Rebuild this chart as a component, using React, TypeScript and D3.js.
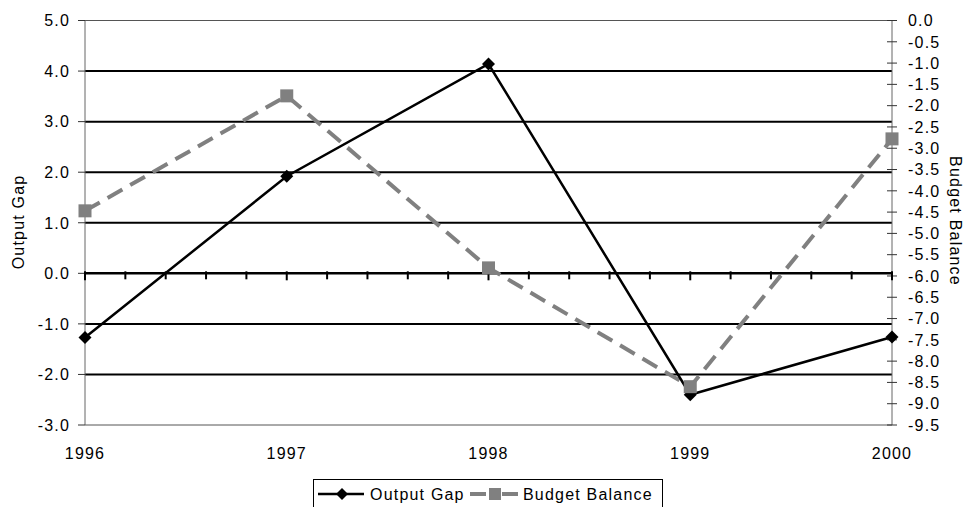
import * as d3 from "d3";
import { useEffect } from "react";

// данные
const years = [1996, 1997, 1998, 1999, 2000];
const outputGap = [-1.27, 1.92, 4.14, -2.4, -1.26];
const budgetBalance = [-4.47, -1.77, -5.81, -8.6, -2.78];
const leftTicks = [5, 4, 3, 2, 1, 0, -1, -2, -3];
const rightTicks = d3.range(0, 20).map((i) => -i * 0.5);
const legendLabels = ["Output Gap", "Budget Balance"];

const W = 963;
const H = 507;
const margin = { top: 20.5, bottom: 82, left: 85, right: 71 };
const font = "'Liberation Sans', Arial, sans-serif";

const App = () => {
  useEffect(() => {
    document.body.style.margin = "0";
  }, []);

  const x = d3.scaleLinear().domain([1996, 2000]).range([margin.left, W - margin.right]);
  const yL = d3.scaleLinear().domain([-3, 5]).range([H - margin.bottom + 0.5 - 0.5, margin.top]);
  const yR = d3.scaleLinear().domain([-9.5, 0]).range([yL(-3), yL(5)]);

  const gapLine = d3
    .line<number>()
    .x((_, i) => x(years[i]))
    .y((d) => yL(d));
  const budgetLine = d3
    .line<number>()
    .x((_, i) => x(years[i]))
    .y((d) => yR(d));

  const minorTicks = d3.range(0, 21).map((i) => 1996 + i * 0.2);
  const textStyle = { fontFamily: font, fontSize: 16, letterSpacing: "1.2px" };

  const diamond = (cx: number, cy: number, r = 6.5) =>
    `M${cx},${cy - r}L${cx + r},${cy}L${cx},${cy + r}L${cx - r},${cy}Z`;

  const x0 = x.range()[0];
  const x1 = x.range()[1];

  return (
    <svg width={W} height={H} style={{ display: "block", background: "#fff" }}>
      {/* сетка */}
      {leftTicks.map((t) => {
        const edge = t === 5 || t === -3;
        return (
          <line
            key={"g" + t}
            x1={x0}
            x2={x1}
            y1={yL(t)}
            y2={yL(t)}
            stroke={edge ? "#555" : "#000"}
            strokeWidth={edge ? 1 : t === 0 ? 2.5 : 2}
          />
        );
      })}
      {/* оси */}
      <line x1={x0} x2={x0} y1={yL(5)} y2={yL(-3)} stroke="#666" strokeWidth={1} />
      <line x1={x1} x2={x1} y1={yL(5)} y2={yL(-3)} stroke="#666" strokeWidth={1} />
      {leftTicks.map((t) => (
        <g key={"l" + t}>
          <line x1={x0 - 7} x2={x0} y1={yL(t)} y2={yL(t)} stroke="#333" />
          <text x={70} y={yL(t)} dy="0.36em" textAnchor="end" style={textStyle}>
            {t.toFixed(1)}
          </text>
        </g>
      ))}
      {rightTicks.map((t) => (
        <g key={"r" + t}>
          <line x1={x1 - 5} x2={x1 + 5} y1={yR(t)} y2={yR(t)} stroke="#333" />
          <text x={908} y={yR(t)} dy="0.36em" textAnchor="start" style={textStyle}>
            {t.toFixed(1)}
          </text>
        </g>
      ))}
      {minorTicks.map((t, i) => (
        <line
          key={"m" + i}
          x1={x(t)}
          x2={x(t)}
          y1={yL(0) - 2}
          y2={yL(0) + (i % 5 === 0 ? 7 : 6)}
          stroke="#000"
          strokeWidth={2}
        />
      ))}
      {years.map((yr) => (
        <text key={"x" + yr} x={x(yr)} y={459} textAnchor="middle" style={textStyle}>
          {yr}
        </text>
      ))}
      <text
        transform={`translate(24,222) rotate(-90)`}
        textAnchor="middle"
        style={textStyle}
      >
        Output Gap
      </text>
      <text
        transform={`translate(950,221) rotate(90)`}
        textAnchor="middle"
        style={textStyle}
      >
        Budget Balance
      </text>

      {/* линии */}
      <path
        d={budgetLine(budgetBalance) ?? ""}
        fill="none"
        stroke="#808080"
        strokeWidth={4}
        strokeDasharray="17,9"
      />
      <path d={gapLine(outputGap) ?? ""} fill="none" stroke="#000" strokeWidth={2.5} />
      {outputGap.map((v, i) => (
        <path key={"d" + i} d={diamond(x(years[i]), yL(v))} fill="#000" />
      ))}
      {budgetBalance.map((v, i) => (
        <rect
          key={"s" + i}
          x={x(years[i]) - 6.5}
          y={yR(v) - 6.5}
          width={13}
          height={13}
          fill="#808080"
        />
      ))}

      {/* легенда */}
      <rect x={313.5} y={479.5} width={349} height={40} fill="#fff" stroke="#000" />
      <line x1={318} x2={364} y1={494} y2={494} stroke="#000" strokeWidth={2.5} />
      <path d={diamond(342, 494, 6)} fill="#000" />
      <text x={370} y={500} style={textStyle}>
        {legendLabels[0]}
      </text>
      <line
        x1={470}
        x2={518}
        y1={494}
        y2={494}
        stroke="#808080"
        strokeWidth={4}
        strokeDasharray="16,4,8,4,16"
      />
      <rect x={489} y={488} width={12} height={12} fill="#808080" />
      <text x={523} y={500} style={textStyle}>
        {legendLabels[1]}
      </text>
    </svg>
  );
};

export default App;
